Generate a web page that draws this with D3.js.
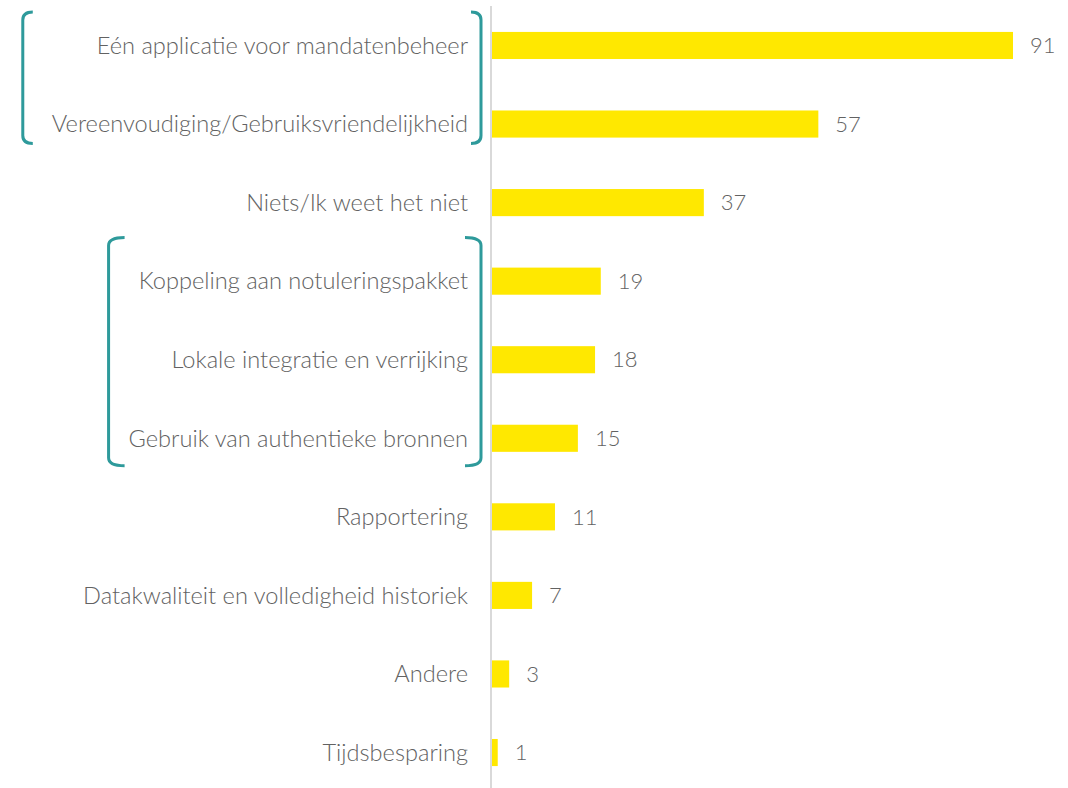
<!DOCTYPE html>
<html>
<head>
<meta charset="utf-8">
<script src="https://cdn.jsdelivr.net/npm/d3@7"></script>
<style>
  html, body { margin: 0; padding: 0; background: #fff; }
  svg { display: block; }
</style>
</head>
<body>
<div id="chart"></div>
<script>
// categories, top to bottom
const categories = [
    'Eén applicatie voor mandatenbeheer',
    'Vereenvoudiging/Gebruiksvriendelijkheid',
    'Niets/Ik weet het niet',
    'Koppeling aan notuleringspakket',
    'Lokale integratie en verrijking',
    'Gebruik van authentieke bronnen',
    'Rapportering',
    'Datakwaliteit en volledigheid historiek',
    'Andere',
    'Tijdsbesparing'
];
const counts = [91, 57, 37, 19, 18, 15, 11, 7, 3, 1];

// bracketed groups: first and last category index
const groupStarts = [0, 3];
const groupEnds = [1, 5];

function drawBarChart(selector) {
    const width = 1068;
    const height = 788;
    const axisX = 491;

    const svg = d3.select(selector).append('svg')
        .attr('width', width)
        .attr('height', height);

    const x = d3.scaleLinear()
        .domain([0, 91])
        .range([axisX + 1, 1013]);

    const y = d3.scaleBand()
        .domain(categories)
        .range([6, 792])
        .paddingInner(0.655)
        .paddingOuter(0.33);

    // bars
    svg.selectAll('.bar')
        .data(categories)
        .enter().append('rect')
        .attr('class', 'bar')
        .attr('x', x(0))
        .attr('y', d => y(d))
        .attr('width', (d, i) => x(counts[i]) - x(0))
        .attr('height', y.bandwidth())
        .attr('fill', '#FFE800');

    // vertical axis line
    svg.append('line')
        .attr('x1', axisX).attr('x2', axisX)
        .attr('y1', 6).attr('y2', height)
        .attr('stroke', '#D9D9D9')
        .attr('stroke-width', 2);

    const font = 'Lato, "Open Sans", sans-serif';

    // category labels
    const labels = svg.selectAll('.cat')
        .data(categories)
        .enter().append('text')
        .attr('class', 'cat')
        .attr('x', axisX - 23)
        .attr('y', d => y(d) + y.bandwidth() / 2)
        .attr('dy', '0.35em')
        .attr('text-anchor', 'end')
        .style('font-family', font)
        .style('font-weight', 300)
        .style('font-size', '23.6px')
        .attr('fill', '#626262')
        .text(d => d);

    // value labels
    svg.selectAll('.val')
        .data(categories)
        .enter().append('text')
        .attr('class', 'val')
        .attr('x', (d, i) => x(counts[i]) + 17)
        .attr('y', d => y(d) + y.bandwidth() / 2)
        .attr('dy', '0.35em')
        .style('font-family', font)
        .style('font-weight', 300)
        .style('font-size', '22px')
        .attr('fill', '#626262')
        .text((d, i) => counts[i]);

    // brackets around grouped labels
    const labelNodes = labels.nodes();
    const teal = '#2E9A9B';
    const gaps = [29, 20];
    const caps = [10, 16];
    const r = 8;
    groupStarts.forEach((s, gi) => {
        const e = groupEnds[gi];
        let minX = Infinity;
        for (let k = s; k <= e; k++) {
            minX = Math.min(minX, labelNodes[k].getBBox().x);
        }
        const cap = caps[gi];
        const left = minX - gaps[gi];
        const right = axisX - 10;
        const top = y(categories[s]) - 20 - gi * 10;
        const bottom = y(categories[e]) + y.bandwidth() + 6 + gi * 8;

        const lp = d3.path();
        lp.moveTo(left + cap, top);
        lp.quadraticCurveTo(left, top, left, top + r);
        lp.lineTo(left, bottom - r);
        lp.quadraticCurveTo(left, bottom, left + cap, bottom);

        const rp = d3.path();
        rp.moveTo(right - cap, top);
        rp.quadraticCurveTo(right, top, right, top + r);
        rp.lineTo(right, bottom - r);
        rp.quadraticCurveTo(right, bottom, right - cap, bottom);

        [lp, rp].forEach(p => {
            svg.append('path')
                .attr('d', p.toString())
                .attr('fill', 'none')
                .attr('stroke', teal)
                .attr('stroke-width', 3);
        });
    });
}

drawBarChart('#chart');
</script>
</body>
</html>
